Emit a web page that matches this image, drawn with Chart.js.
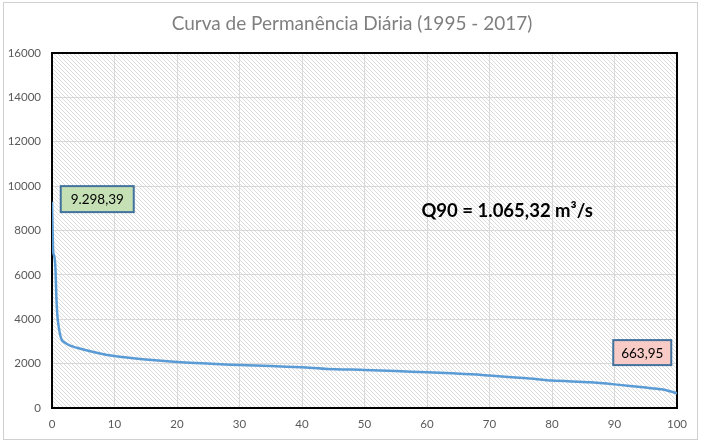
<!DOCTYPE html>
<html>
<head>
<meta charset="utf-8">
<script src="https://cdn.jsdelivr.net/npm/chart.js@4"></script>
<style>
  html, body { margin: 0; padding: 0; background: #fff; }
  #wrap { position: relative; width: 704px; height: 443px; }
</style>
</head>
<body>
<div id="wrap"><canvas id="curva"></canvas></div>
<script>
// ── Data ─────────────────────────────────────────────────────────────────────
const permanencia = [0, 0.1, 0.2, 0.4, 0.55, 0.7, 0.85, 1.0, 1.3, 1.6, 2.0, 3, 5, 7.5, 10, 13, 16, 20, 24, 27,
                     30, 35, 40, 44, 50, 55, 60, 64, 68, 70, 76, 80, 86, 90, 95, 97.5, 98.7, 100];
const vazao       = [9298, 8000, 7000, 6800, 6300, 5000, 4200, 3800, 3300, 3050, 2950, 2800, 2640, 2470, 2340, 2240, 2160, 2075, 2015, 1970,
                     1940, 1890, 1835, 1760, 1715, 1665, 1610, 1565, 1505, 1460, 1340, 1235, 1160, 1065, 920, 845, 770, 664];
const xTicks = [0, 10, 20, 30, 40, 50, 60, 70, 80, 90, 100];
const yTicks = [0, 2000, 4000, 6000, 8000, 10000, 12000, 14000, 16000];

const TITLE   = 'Curva de Permanência Diária (1995 - 2017)';
const MAX_LBL = '9.298,39';
const MIN_LBL = '663,95';
const Q90_LBL = 'Q90 = 1.065,32 m³/s';

// ── Theme ────────────────────────────────────────────────────────────────────
const FONT  = "Lato, 'Open Sans', sans-serif";
const MUTED = '#595959';
const GRID  = '#d9d9d9';
const LINE  = '#5b9bd5';

// diagonal hatch for the plot area (Excel-style pattern fill)
function hatch() {
    const c = document.createElement('canvas');
    c.width = 4; c.height = 4;
    const g = c.getContext('2d');
    g.fillStyle = '#fff';
    g.fillRect(0, 0, 4, 4);
    g.fillStyle = '#dcdcdc';
    for (let i = 0; i < 4; i++) g.fillRect(i, i, 1, 1);
    return g.createPattern(c, 'repeat');
}

const frame = {
    id: 'frame',
    beforeDraw(chart) {
        const { ctx, chartArea: a } = chart;
        ctx.save();
        ctx.strokeStyle = '#d0d0d0';
        ctx.lineWidth = 1;
        ctx.strokeRect(3.5, 2.5, 694, 437);
        ctx.fillStyle = hatch();
        ctx.fillRect(a.left, a.top, a.right - a.left, a.bottom - a.top);

        // title centred on the whole chart box, as Excel does
        ctx.fillStyle = '#7f7f7f';
        ctx.font = '19px ' + FONT;
        ctx.textAlign = 'center';
        ctx.textBaseline = 'middle';
        ctx.fillText(TITLE, 352, 24);
        ctx.restore();
    },
    beforeDatasetsDraw(chart) {
        const { ctx, chartArea: a } = chart;
        ctx.save();
        ctx.strokeStyle = '#000';
        ctx.lineWidth = 2;
        ctx.strokeRect(a.left, a.top, a.right - a.left, a.bottom - a.top);
        ctx.restore();
    },
    afterDatasetsDraw(chart) {
        const { ctx, scales: { x, y } } = chart;

        function box(text, px, py, w, h, fill) {
            ctx.fillStyle = fill;
            ctx.fillRect(px, py, w, h);
            ctx.strokeStyle = '#41719c';
            ctx.lineWidth = 2;
            ctx.strokeRect(px, py, w, h);
            ctx.fillStyle = '#000';
            ctx.font = '13.5px ' + FONT;
            ctx.textAlign = 'center';
            ctx.textBaseline = 'middle';
            ctx.fillText(text, px + w / 2, py + h / 2 + 1);
        }

        ctx.save();
        // max label near the left end, min label near the right end
        box(MAX_LBL, x.getPixelForValue(1.4), y.getPixelForValue(10000), 73, 26, '#c5e0b4');
        box(MIN_LBL, x.getPixelForValue(89.8), y.getPixelForValue(3060), 58, 25, '#f8cbc6');

        ctx.fillStyle = '#000';
        ctx.font = 'bold 18.5px ' + FONT;
        ctx.textAlign = 'left';
        ctx.textBaseline = 'middle';
        ctx.fillText(Q90_LBL, x.getPixelForValue(59.1), y.getPixelForValue(8900));
        ctx.restore();
    }
};

new Chart(document.getElementById('curva'), {
    type: 'line',
    data: {
        datasets: [{
            label: 'Vazão',
            data: permanencia.map((p, i) => ({ x: p, y: vazao[i] })),
            borderColor: LINE,
            borderWidth: 2.5,
            pointRadius: 0,
            tension: 0.2,
            fill: false
        }]
    },
    options: {
        responsive: true,
        maintainAspectRatio: false,
        devicePixelRatio: 1,
        animation: false,
        layout: { padding: { left: 0, right: 27, top: 53, bottom: 0 } },
        plugins: {
            legend: { display: false },
            tooltip: { enabled: false },
            title: { display: false }
        },
        scales: {
            x: {
                type: 'linear',
                min: 0, max: 100,
                afterFit: s => { s.height = 35; },
                afterBuildTicks: s => { s.ticks = xTicks.map(v => ({ value: v })); },
                grid: { color: GRID, drawTicks: false },
                border: { display: false },
                ticks: { color: MUTED, padding: 9, font: { family: FONT, size: 11.5 }, callback: v => String(v) }
            },
            y: {
                min: 0, max: 16000,
                afterFit: s => { s.width = 52; },
                afterBuildTicks: s => { s.ticks = yTicks.map(v => ({ value: v })); },
                grid: { color: GRID, drawTicks: false },
                border: { display: false },
                ticks: { color: MUTED, padding: 11, font: { family: FONT, size: 11.5 }, callback: v => String(v) }
            }
        }
    },
    plugins: [frame]
});
</script>
</body>
</html>
